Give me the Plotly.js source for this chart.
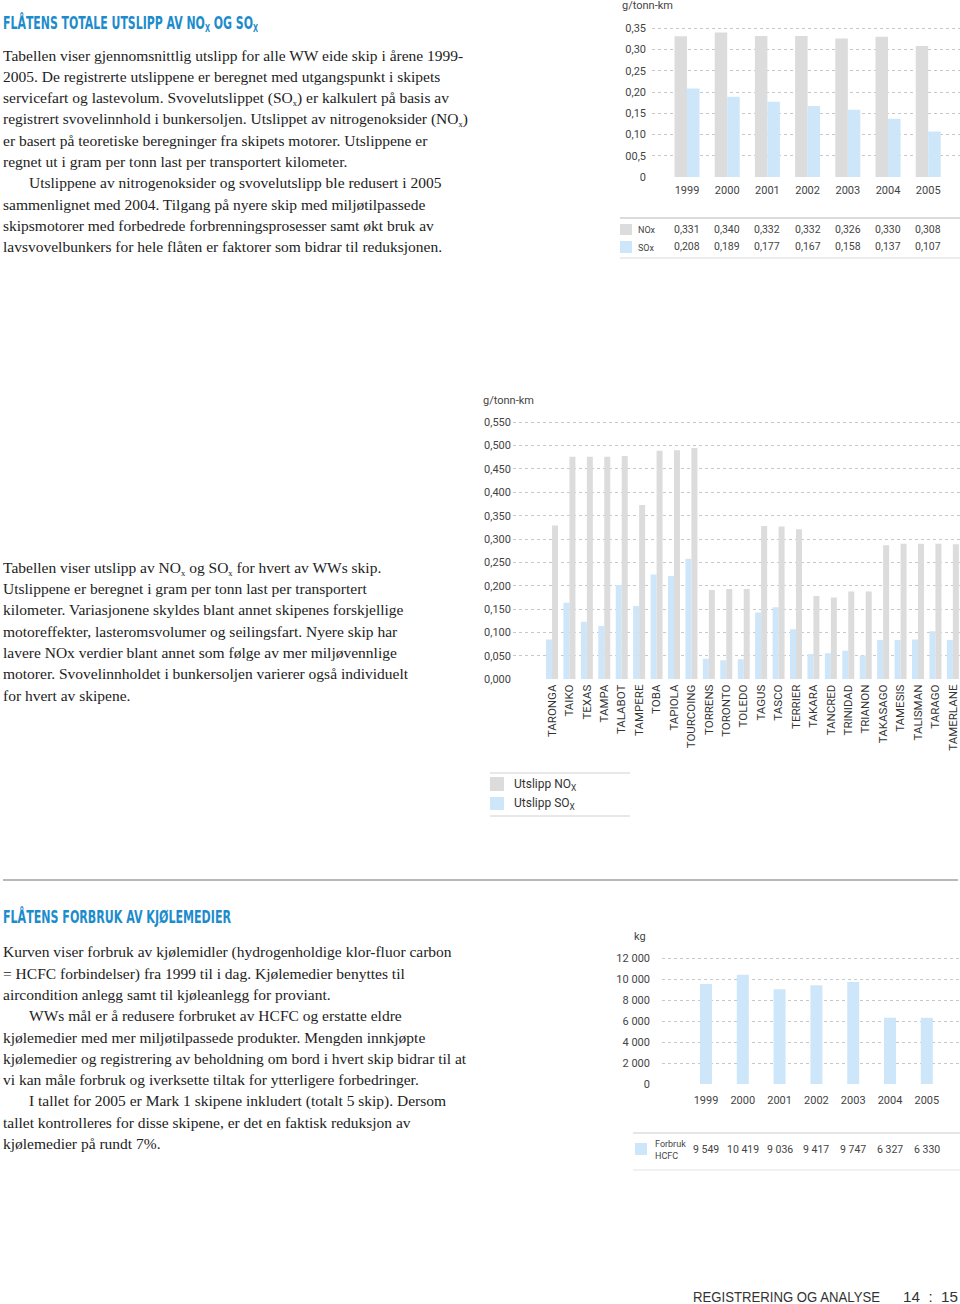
<!DOCTYPE html>
<html><head><meta charset="utf-8">
<script src="https://cdn.plot.ly/plotly-3.0.1.min.js"></script>
<style>
html,body{margin:0;padding:0;background:#fff}
body{width:960px;height:1304px;position:relative;overflow:hidden}
#plot{position:absolute;left:0;top:0;width:960px;height:1304px}
.t{position:absolute;left:3px;font-family:"Liberation Serif","Times New Roman",serif;color:#222;white-space:nowrap;line-height:21.3px;font-size:15.5px;z-index:2}
.t .ln{height:21.3px}
.t .ind{padding-left:26px}
.t sub{font-size:0.55em;vertical-align:-0.35em;line-height:0}
.h{position:absolute;left:3px;font-family:"DejaVu Sans Condensed","DejaVu Sans",sans-serif;font-weight:bold;color:#1d8ccc;white-space:nowrap;transform-origin:0 0;font-size:17px;line-height:17px;z-index:2}
.h sub{font-size:0.6em;vertical-align:-0.3em;line-height:0}
.foot{position:absolute;font-family:"Liberation Sans",Arial,sans-serif;color:#333;font-size:14px;line-height:14px;white-space:nowrap;transform-origin:0 0;z-index:2}
</style>
</head>
<body>
<div id="plot"></div>

<div class="h" id="h1" style="top:15px">FLÅTENS TOTALE UTSLIPP AV NO<sub>X</sub> OG SO<sub>X</sub></div>
<div class="t" id="p1" style="top:44.6px">
<div class="ln" id="ref">Tabellen viser gjennomsnittlig utslipp for alle WW eide skip i årene 1999-</div>
<div class="ln">2005. De registrerte utslippene er beregnet med utgangspunkt i skipets</div>
<div class="ln">servicefart og lastevolum. Svovelutslippet (SO<sub>x</sub>) er kalkulert på basis av</div>
<div class="ln">registrert svovelinnhold i bunkersoljen. Utslippet av nitrogenoksider (NO<sub>x</sub>)</div>
<div class="ln">er basert på teoretiske beregninger fra skipets motorer. Utslippene er</div>
<div class="ln">regnet ut i gram per tonn last per transportert kilometer.</div>
<div class="ln ind">Utslippene av nitrogenoksider og svovelutslipp ble redusert i 2005</div>
<div class="ln">sammenlignet med 2004. Tilgang på nyere skip med miljøtilpassede</div>
<div class="ln">skipsmotorer med forbedrede forbrenningsprosesser samt økt bruk av</div>
<div class="ln">lavsvovelbunkers for hele flåten er faktorer som bidrar til reduksjonen.</div>
</div>

<div class="t" id="p2" style="top:556.8px">
<div class="ln">Tabellen viser utslipp av NO<sub>x</sub> og SO<sub>x</sub> for hvert av WWs skip.</div>
<div class="ln">Utslippene er beregnet i gram per tonn last per transportert</div>
<div class="ln">kilometer. Variasjonene skyldes blant annet skipenes forskjellige</div>
<div class="ln">motoreffekter, lasteromsvolumer og seilingsfart. Nyere skip har</div>
<div class="ln">lavere NOx verdier blant annet som følge av mer miljøvennlige</div>
<div class="ln">motorer. Svovelinnholdet i bunkersoljen varierer også individuelt</div>
<div class="ln">for hvert av skipene.</div>
</div>

<div class="h" id="h2" style="top:909px">FLÅTENS FORBRUK AV KJØLEMEDIER</div>
<div class="t" id="p3" style="top:941.4px">
<div class="ln">Kurven viser forbruk av kjølemidler (hydrogenholdige klor-fluor carbon</div>
<div class="ln">= HCFC forbindelser) fra 1999 til i dag. Kjølemedier benyttes til</div>
<div class="ln">aircondition anlegg samt til kjøleanlegg for proviant.</div>
<div class="ln ind">WWs mål er å redusere forbruket av HCFC og erstatte eldre</div>
<div class="ln">kjølemedier med mer miljøtilpassede produkter. Mengden innkjøpte</div>
<div class="ln">kjølemedier og registrering av beholdning om bord i hvert skip bidrar til at</div>
<div class="ln">vi kan måle forbruk og iverksette tiltak for ytterligere forbedringer.</div>
<div class="ln ind">I tallet for 2005 er Mark 1 skipene inkludert (totalt 5 skip). Dersom</div>
<div class="ln">tallet kontrolleres for disse skipene, er det en faktisk reduksjon av</div>
<div class="ln">kjølemedier på rundt 7%.</div>
</div>

<div class="foot" id="f1" style="left:693px;top:1290px">REGISTRERING OG ANALYSE</div>
<div class="foot" id="f2" style="left:903px;top:1290px">14&nbsp;&nbsp;:&nbsp;&nbsp;15</div>

<script>
// ---------- DATA ----------
const years = ['1999','2000','2001','2002','2003','2004','2005'];
const noxYear = [0.331,0.340,0.332,0.332,0.326,0.330,0.308];
const soxYear = [0.208,0.189,0.177,0.167,0.158,0.137,0.107];
const yTicks1 = [0,0.05,0.10,0.15,0.20,0.25,0.30,0.35];
const yTickText1 = ['0','00,5','0,10','0,15','0,20','0,25','0,30','0,35'];

const ships = ['TARONGA','TAIKO','TEXAS','TAMPA','TALABOT','TAMPERE','TOBA','TAPIOLA','TOURCOING','TORRENS','TORONTO','TOLEDO','TAGUS','TASCO','TERRIER','TAKARA','TANCRED','TRINIDAD','TRIANON','TAKASAGO','TAMESIS','TALISMAN','TARAGO','TAMERLANE'];
const noxShip = [0.329,0.476,0.476,0.476,0.478,0.373,0.489,0.490,0.495,0.191,0.193,0.193,0.328,0.327,0.321,0.178,0.175,0.188,0.188,0.287,0.290,0.290,0.290,0.289];
const soxShip = [0.085,0.164,0.123,0.114,0.202,0.157,0.224,0.221,0.258,0.044,0.041,0.043,0.143,0.154,0.107,0.054,0.056,0.061,0.051,0.084,0.084,0.085,0.103,0.084];
const yTicks2 = [0,0.05,0.10,0.15,0.20,0.25,0.30,0.35,0.40,0.45,0.50,0.55];
const yTickText2 = ['0,000','0,050','0,100','0,150','0,200','0,250','0,300','0,350','0,400','0,450','0,500','0,550'];

const hcfc = [9549,10419,9036,9417,9747,6327,6330];
const yTicks3 = [0,2000,4000,6000,8000,10000,12000];
const yTickText3 = ['0','2 000','4 000','6 000','8 000','10 000','12 000'];

// ---------- STYLE ----------
const GRAY = '#dcdcdc', BLUE = '#cde6f9';
const FONT = 'Roboto, "DejaVu Sans Condensed", sans-serif';
const TXT = '#444';
const W = 960, H = 1304;
const px = v => v / W;
const py = v => 1 - v / H;
const fmt3 = v => v.toFixed(3).replace('.', ',');
const fmtK = v => { const s = String(v); return s.length > 3 ? s.slice(0, s.length - 3) + ' ' + s.slice(-3) : s; };

const gridCommon = {showgrid:true, gridcolor:'#c8c8c8', griddash:'dot', gridwidth:1, zeroline:false, showline:false, ticks:''};

const traces = [
  {type:'bar', x:years, y:noxYear, xaxis:'x', yaxis:'y', width:0.311, offset:-0.311, marker:{color:GRAY}, hoverinfo:'none'},
  {type:'bar', x:years, y:soxYear, xaxis:'x', yaxis:'y', width:0.311, offset:0, marker:{color:BLUE}, hoverinfo:'none'},
  {type:'bar', x:ships, y:soxShip, xaxis:'x2', yaxis:'y2', width:0.344, offset:-0.344, marker:{color:BLUE}, hoverinfo:'none'},
  {type:'bar', x:ships, y:noxShip, xaxis:'x2', yaxis:'y2', width:0.344, offset:0, marker:{color:GRAY}, hoverinfo:'none'},
  {type:'bar', x:years, y:hcfc, xaxis:'x3', yaxis:'y3', width:0.326, offset:-0.163, marker:{color:BLUE}, hoverinfo:'none'}
];

const annotations = [];
const shapes = [];
function note(text, x, y, opt) {
  annotations.push(Object.assign({text:text, x:x, y:y, xref:'paper', yref:'paper', showarrow:false,
    xanchor:'left', yanchor:'middle', font:{family:FONT, size:11, color:TXT}}, opt || {}));
}
function hline(x0, x1, y, color, w) {
  shapes.push({type:'line', xref:'paper', yref:'paper', x0:px(x0), x1:px(x1), y0:py(y), y1:py(y), line:{color:color, width:w}});
}
function box(x0, x1, y0, y1, color) {
  shapes.push({type:'rect', xref:'paper', yref:'paper', x0:px(x0), x1:px(x1), y0:py(y1), y1:py(y0), line:{width:0}, fillcolor:color});
}

// chart 1 extras
note('g/tonn-km', px(620), py(6), {font:{family:FONT, size:11, color:TXT}});
hline(620, 960, 218, '#cfcfcf', 1.5);
hline(620, 960, 258, '#e6e6e6', 1.5);
box(620, 632, 224, 235, GRAY);
box(620, 632, 241, 253, BLUE);
note('NOx', px(636), py(229.5), {font:{family:FONT, size:9, color:TXT}});
note('SOx', px(636), py(247.5), {font:{family:FONT, size:9, color:TXT}});
years.forEach((yr, i) => {
  note(fmt3(noxYear[i]), i, py(229), {xref:'x', xanchor:'center', font:{family:FONT, size:10.5, color:TXT}});
  note(fmt3(soxYear[i]), i, py(247), {xref:'x', xanchor:'center', font:{family:FONT, size:10.5, color:TXT}});
});

// chart 2 extras
note('g/tonn-km', px(481), py(401), {font:{family:FONT, size:11, color:TXT}});
hline(490, 630, 773, '#e0e0e0', 1.5);
hline(490, 630, 816, '#e0e0e0', 1.5);
box(490, 504, 777, 791, GRAY);
box(490, 504, 797, 810, BLUE);
note('Utslipp NO<sub>X</sub>', px(512), py(785), {font:{family:FONT, size:12, color:'#333'}});
note('Utslipp SO<sub>X</sub>', px(512), py(804), {font:{family:FONT, size:12, color:'#333'}});

// chart 3 extras
note('kg', px(648), py(936), {xanchor:'right', font:{family:FONT, size:11, color:TXT}});
hline(633, 960, 1133, '#dedede', 1.5);
hline(633, 960, 1170, '#ececec', 1.5);
box(635, 647, 1143, 1155, BLUE);
note('Forbruk<br>HCFC', px(653), py(1149.5), {align:'left', font:{family:FONT, size:9, color:TXT}});
years.forEach((yr, i) => {
  note(fmtK(hcfc[i]), i, py(1149), {xref:'x3', xanchor:'center', font:{family:FONT, size:10.5, color:TXT}});
});

// separator
hline(3, 958, 880, '#b8b8b8', 2);

const tickFont = {family:FONT, size:11, color:TXT};
const layout = {
  width:W, height:H, margin:{l:0, r:0, t:0, b:0},
  paper_bgcolor:'rgba(0,0,0,0)', plot_bgcolor:'rgba(0,0,0,0)',
  showlegend:false, barmode:'overlay',
  xaxis:{domain:[px(652), 1], anchor:'y', type:'category', range:[-0.871, 6.791], showgrid:false, zeroline:false, ticks:'', tickfont:{family:FONT, size:11, color:TXT}, ticklabelstandoff:5},
  yaxis:Object.assign({domain:[py(177), py(24)], anchor:'x', range:[0, 0.36], tickvals:yTicks1, ticktext:yTickText1, tickfont:tickFont, ticklabelstandoff:5}, gridCommon),
  xaxis2:{domain:[px(513), 1], anchor:'y2', type:'category', range:[-2.2375, 23.41], showgrid:false, zeroline:false, ticks:'', tickangle:-90, tickfont:{family:FONT, size:11.5, color:'#333'}, ticklabelstandoff:2},
  yaxis2:Object.assign({domain:[py(679.3), py(412.9)], anchor:'x2', range:[0, 0.57], tickvals:yTicks2, ticktext:yTickText2, tickfont:tickFont, ticklabelstandoff:1}, gridCommon),
  xaxis3:{domain:[px(662), 1], anchor:'y3', type:'category', range:[-1.1957, 6.902], showgrid:false, zeroline:false, ticks:'', tickfont:{family:FONT, size:11, color:TXT}, ticklabelstandoff:8},
  yaxis3:Object.assign({domain:[py(1084), py(949.9)], anchor:'x3', range:[0, 12800], tickvals:yTicks3, ticktext:yTickText3, tickfont:tickFont, ticklabelstandoff:11}, gridCommon),
  annotations:annotations, shapes:shapes
};

Plotly.newPlot('plot', traces, layout, {staticPlot:true, displayModeBar:false});

// ---------- fit text widths ----------
function fitScale(id, target) {
  const el = document.getElementById(id);
  el.style.transform = 'none';
  const w = el.getBoundingClientRect().width;
  if (w > 0) el.style.transform = 'scaleX(' + (target / w) + ')';
}
function fit() {
  const ref = document.getElementById('ref');
  const r = document.createRange();
  r.selectNodeContents(ref);
  const w = r.getBoundingClientRect().width;
  if (w > 0) {
    const fs = 15.5 * 469 / w;
    document.querySelectorAll('.t').forEach(e => e.style.fontSize = fs + 'px');
  }
  fitScale('h1', 255);
  fitScale('h2', 228);
  fitScale('f1', 187);
  fitScale('f2', 55);
}
if (document.fonts && document.fonts.ready) document.fonts.ready.then(fit); else fit();
fit();
</script>
</body></html>
